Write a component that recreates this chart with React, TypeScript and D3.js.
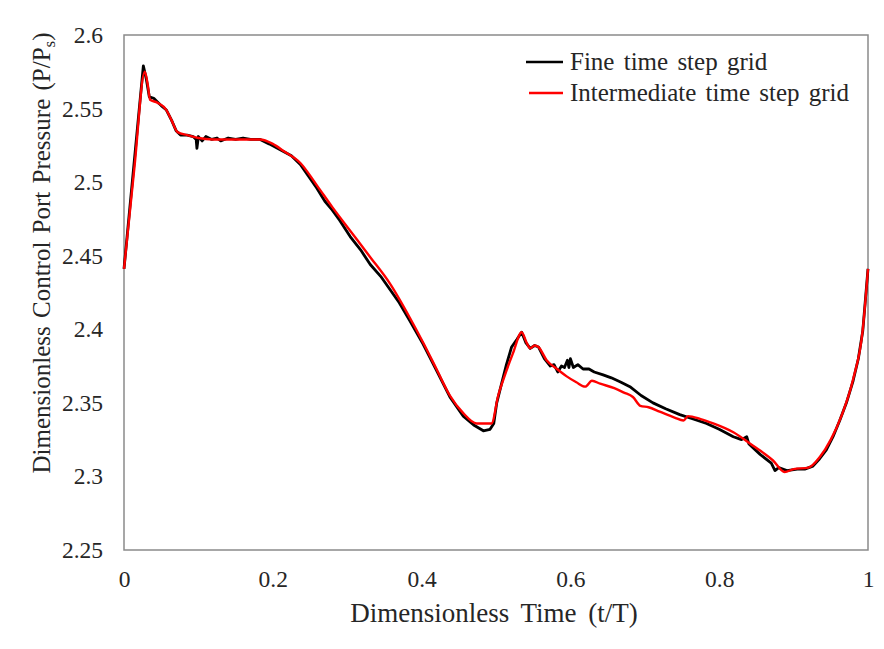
import { useEffect, useRef } from 'react'
import * as d3 from 'd3'

// Fine time step grid (black)
const fineT = [
  0, 0.013, 0.026, 0.03, 0.034, 0.04, 0.044, 0.05, 0.057, 0.064, 0.07, 0.076, 0.085, 0.093, 0.097, 0.098,
  0.1, 0.105, 0.11, 0.118, 0.125, 0.13, 0.14, 0.15, 0.16, 0.17, 0.183, 0.195, 0.21, 0.225, 0.237, 0.248,
  0.259, 0.27, 0.28, 0.29, 0.304, 0.318, 0.331, 0.345, 0.3575, 0.37, 0.384, 0.402, 0.42, 0.438, 0.456,
  0.47, 0.483, 0.492, 0.497, 0.501, 0.507, 0.514, 0.521, 0.528, 0.5345, 0.54, 0.546, 0.552, 0.557, 0.565,
  0.573, 0.578, 0.583, 0.588, 0.592, 0.596, 0.598, 0.6, 0.604, 0.61, 0.617, 0.625, 0.632, 0.644, 0.655,
  0.668, 0.68, 0.695, 0.711, 0.728, 0.747, 0.765, 0.783, 0.8, 0.819, 0.83, 0.837, 0.84, 0.855, 0.87, 0.875,
  0.88, 0.891, 0.905, 0.915, 0.926, 0.935, 0.944, 0.953, 0.962, 0.971, 0.98, 0.987, 0.993, 1.0,
]
const fineP = [
  2.441, 2.51, 2.579, 2.57, 2.558, 2.557, 2.555, 2.552, 2.549, 2.542, 2.535, 2.532, 2.532, 2.531, 2.529, 2.523,
  2.531, 2.528, 2.531, 2.529, 2.53, 2.528, 2.53, 2.529, 2.53, 2.529, 2.529, 2.526, 2.522, 2.518, 2.512, 2.504,
  2.496, 2.487, 2.481, 2.474, 2.463, 2.454, 2.444, 2.436, 2.427, 2.418, 2.406, 2.39, 2.372, 2.354, 2.341,
  2.335, 2.331, 2.332, 2.336, 2.35, 2.362, 2.376, 2.388, 2.393, 2.398, 2.391, 2.387, 2.389, 2.388, 2.38,
  2.375, 2.376, 2.371, 2.375, 2.374, 2.379, 2.374, 2.38, 2.374, 2.376, 2.373, 2.373, 2.371, 2.369, 2.367,
  2.364, 2.361, 2.355, 2.35, 2.346, 2.342, 2.339, 2.336, 2.332, 2.327, 2.325, 2.327, 2.322, 2.315, 2.309, 2.304,
  2.306, 2.304, 2.305, 2.305, 2.307, 2.312, 2.318, 2.327, 2.338, 2.35, 2.365, 2.38, 2.399, 2.441,
]

// Intermediate time step grid (red)
const interT = [
  0, 0.014, 0.028, 0.032, 0.035, 0.045, 0.057, 0.064, 0.072, 0.085, 0.1, 0.12, 0.14, 0.16, 0.183, 0.2, 0.215,
  0.237, 0.259, 0.28, 0.304, 0.331, 0.3575, 0.384, 0.402, 0.42, 0.438, 0.456, 0.474, 0.4875, 0.494, 0.503,
  0.51, 0.523, 0.5345, 0.541, 0.546, 0.552, 0.557, 0.568, 0.582, 0.595, 0.608, 0.62, 0.629, 0.64, 0.659,
  0.672, 0.684, 0.694, 0.705, 0.72, 0.74, 0.752, 0.758, 0.775, 0.792, 0.819, 0.845, 0.872, 0.888, 0.9, 0.92,
  0.935, 0.95, 0.965, 0.98, 0.993, 1.0,
]
const interP = [
  2.441, 2.51, 2.575, 2.566, 2.556, 2.554, 2.549, 2.542, 2.534, 2.532, 2.53, 2.529, 2.529, 2.529, 2.529, 2.526, 2.521,
  2.513, 2.498, 2.483, 2.467, 2.449, 2.431, 2.408, 2.391, 2.373, 2.355, 2.343, 2.336, 2.336, 2.336, 2.355,
  2.366, 2.384, 2.398, 2.391, 2.387, 2.389, 2.388, 2.379, 2.373, 2.368, 2.364, 2.361, 2.365, 2.363, 2.36,
  2.357, 2.354, 2.348, 2.347, 2.344, 2.34, 2.338, 2.341, 2.339, 2.336, 2.33, 2.321, 2.311, 2.303, 2.305, 2.306,
  2.313, 2.325, 2.342, 2.366, 2.4, 2.441,
]

const xTicks = [0, 0.2, 0.4, 0.6, 0.8, 1]
const yTicks = [2.25, 2.3, 2.35, 2.4, 2.45, 2.5, 2.55, 2.6]

const seriesNames = ['Fine time step grid', 'Intermediate time step grid']
const seriesColors = ['#000000', '#ff0000']

export default function App() {
  const svgRef = useRef<SVGSVGElement | null>(null)

  useEffect(() => {
    const W = 884
    const H = 649
    const margin = { top: 35, right: 16, bottom: 99, left: 124 }
    const innerW = W - margin.left - margin.right
    const innerH = H - margin.top - margin.bottom
    const font = "'Liberation Serif', 'DejaVu Serif', serif"
    const ink = '#262626'

    const x = d3.scaleLinear().domain([0, 1]).range([0, innerW])
    const y = d3.scaleLinear().domain([2.25, 2.6]).range([innerH, 0])

    const svg = d3.select(svgRef.current)
    svg.selectAll('*').remove()
    svg.attr('width', W).attr('height', H)

    svg.append('rect').attr('width', W).attr('height', H).attr('fill', '#fff')

    const g = svg.append('g').attr('transform', `translate(${margin.left},${margin.top})`)

    // Axes (labels only)
    g.append('g')
      .attr('transform', `translate(0,${innerH})`)
      .call(d3.axisBottom(x).tickValues(xTicks).tickSize(0).tickPadding(20).tickFormat((d) => String(d)))
      .call((ax) => ax.select('.domain').remove())
      .call((ax) => ax.selectAll('text').attr('fill', ink).attr('font-size', 23.5).style('font-family', font))

    g.append('g')
      .call(d3.axisLeft(y).tickValues(yTicks).tickSize(0).tickPadding(21).tickFormat((d) => String(d)))
      .call((ax) => ax.select('.domain').remove())
      .call((ax) => ax.selectAll('text').attr('fill', ink).attr('font-size', 23.5).style('font-family', font))

    // Frame
    g.append('rect')
      .attr('width', innerW).attr('height', innerH)
      .attr('fill', 'none')
      .attr('stroke', '#8a8a8a')
      .attr('stroke-width', 1.5)

    // Axis titles
    svg.append('text')
      .attr('x', 494).attr('y', 622)
      .attr('text-anchor', 'middle')
      .style('font-family', font).style('word-spacing', '5px')
      .attr('font-size', 27).attr('fill', ink)
      .text('Dimensionless Time (t/T)')

    const yt = svg.append('text')
      .attr('transform', 'translate(50,253) rotate(-90)')
      .attr('text-anchor', 'middle')
      .style('font-family', font).style('word-spacing', '2px')
      .attr('font-size', 25).attr('fill', ink)
    yt.append('tspan').text('Dimensionless Control Port Pressure (P/P')
    yt.append('tspan').attr('font-size', 17).attr('dy', 5).text('s')
    yt.append('tspan').attr('dy', -5).text(')')

    // Lines
    const line = d3.line<[number, number]>()
      .x((d) => x(d[0]))
      .y((d) => y(d[1]))

    const fine: [number, number][] = fineT.map((t, i) => [t, fineP[i]])
    const inter: [number, number][] = interT.map((t, i) => [t, interP[i]])

    g.append('path')
      .datum(fine)
      .attr('fill', 'none')
      .attr('stroke', seriesColors[0])
      .attr('stroke-width', 2.8)
      .attr('stroke-linejoin', 'round')
      .attr('d', line)

    g.append('path')
      .datum(inter)
      .attr('fill', 'none')
      .attr('stroke', seriesColors[1])
      .attr('stroke-width', 2.4)
      .attr('stroke-linejoin', 'round')
      .attr('d', line.curve(d3.curveMonotoneX))

    // Legend
    const legend = svg.append('g').attr('transform', 'translate(526,62)')
    seriesNames.forEach((name, i) => {
      const row = legend.append('g').attr('transform', `translate(0,${i * 31})`)
      row.append('line')
        .attr('x1', i === 0 ? 0 : 3).attr('x2', 37)
        .attr('stroke', seriesColors[i]).attr('stroke-width', 2.5)
      row.append('text')
        .attr('x', 44).attr('y', 8)
        .style('font-family', font).style('word-spacing', '3px')
        .attr('font-size', 25).attr('fill', ink)
        .text(name)
    })
  }, [])

  return (
    <div style={{ position: 'absolute', left: 0, top: 0 }}>
      <svg ref={svgRef} />
    </div>
  )
}
